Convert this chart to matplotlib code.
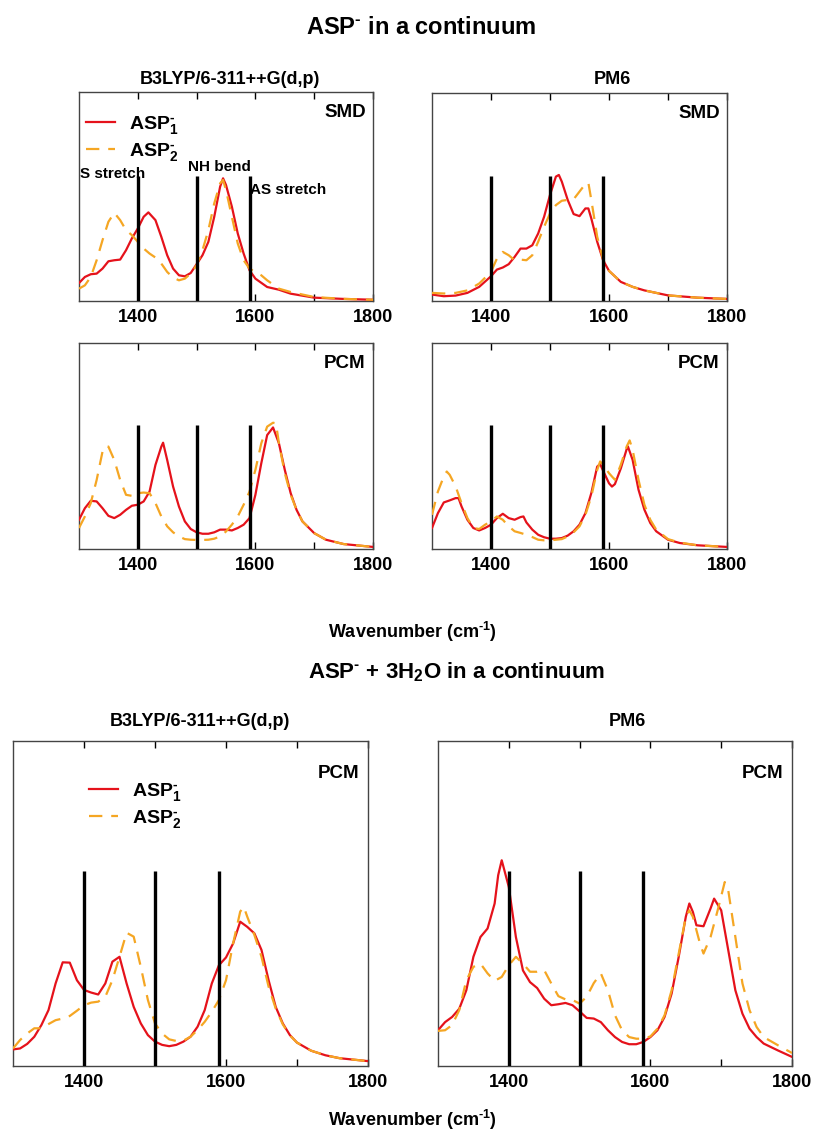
import numpy as np
import matplotlib
matplotlib.use("Agg")
import matplotlib.pyplot as plt

plt.rcParams['font.family'] = ['Liberation Sans', 'DejaVu Sans']
plt.rcParams['font.weight'] = 'bold'
plt.rcParams['mathtext.fontset'] = 'custom'
plt.rcParams['mathtext.rm'] = 'Liberation Sans:bold'
plt.rcParams['mathtext.it'] = 'Liberation Sans:bold'
plt.rcParams['mathtext.bf'] = 'Liberation Sans:bold'

RED = '#e5121b'
ORANGE = '#f5a623'
BANDS = [1400, 1500, 1590]
BAND_H = 0.6

# --- top-left: B3LYP, SMD ---
tl_x1 = [1300, 1310, 1320, 1330, 1340, 1350, 1360, 1370, 1380, 1390, 1400, 1410, 1418, 1430, 1440, 1450,
         1460, 1470, 1480, 1490, 1500, 1510, 1520, 1530, 1540, 1545, 1550, 1560, 1570, 1580, 1590, 1600,
         1620, 1640, 1660, 1700, 1750, 1800]
tl_y1 = [0.086, 0.115, 0.128, 0.131, 0.155, 0.19, 0.195, 0.198, 0.243, 0.30, 0.347, 0.403, 0.424, 0.387,
         0.307, 0.219, 0.155, 0.123, 0.118, 0.134, 0.176, 0.219, 0.283, 0.403, 0.547, 0.587, 0.555, 0.451,
         0.323, 0.227, 0.147, 0.107, 0.067, 0.054, 0.035, 0.016, 0.01, 0.006]
tl_x2 = [1300, 1310, 1320, 1330, 1340, 1350, 1360, 1370, 1380, 1390, 1400, 1410, 1420, 1430, 1440, 1450,
         1460, 1470, 1480, 1490, 1500, 1510, 1520, 1530, 1540, 1545, 1550, 1560, 1570, 1580, 1590, 1600,
         1610, 1620, 1640, 1660, 1700, 1750, 1800]
tl_y2 = [0.059, 0.075, 0.115, 0.195, 0.291, 0.379, 0.422, 0.387, 0.339, 0.315, 0.283, 0.251, 0.227, 0.208,
         0.179, 0.139, 0.112, 0.099, 0.107, 0.131, 0.171, 0.243, 0.339, 0.467, 0.563, 0.579, 0.531, 0.403,
         0.275, 0.195, 0.155, 0.139, 0.123, 0.099, 0.059, 0.043, 0.019, 0.01, 0.006]

# --- top-right: PM6, SMD ---
tr_x1 = [1300, 1320, 1340, 1360, 1380, 1400, 1410, 1420, 1430, 1440, 1450, 1460, 1470, 1480, 1490, 1500,
         1510, 1515, 1520, 1530, 1540, 1550, 1560, 1565, 1570, 1580, 1590, 1600, 1620, 1640, 1660, 1700,
         1750, 1800]
tr_y1 = [0.031, 0.023, 0.026, 0.039, 0.068, 0.119, 0.151, 0.161, 0.177, 0.212, 0.252, 0.252, 0.268, 0.325,
         0.405, 0.51, 0.598, 0.606, 0.574, 0.486, 0.418, 0.408, 0.445, 0.445, 0.397, 0.285, 0.196, 0.145,
         0.092, 0.068, 0.051, 0.027, 0.016, 0.01]
tr_x2 = [1300, 1320, 1340, 1360, 1380, 1400, 1410, 1420, 1430, 1440, 1450, 1460, 1470, 1480, 1490, 1500,
         1510, 1520, 1530, 1540, 1550, 1560, 1565, 1570, 1580, 1590, 1600, 1620, 1640, 1660, 1700, 1750,
         1800]
tr_y2 = [0.039, 0.036, 0.039, 0.051, 0.084, 0.14, 0.204, 0.236, 0.22, 0.196, 0.199, 0.196, 0.22, 0.285,
         0.357, 0.421, 0.461, 0.482, 0.486, 0.489, 0.526, 0.563, 0.569, 0.486, 0.309, 0.199, 0.145, 0.092,
         0.068, 0.051, 0.027, 0.016, 0.01]

# --- middle-left: B3LYP, PCM ---
ml_x1 = [1300, 1310, 1320, 1330, 1340, 1350, 1360, 1370, 1380, 1390, 1400, 1410, 1420, 1430, 1440, 1443,
         1450, 1460, 1470, 1480, 1490, 1500, 1510, 1520, 1530, 1540, 1550, 1560, 1570, 1580, 1590, 1600,
         1610, 1620, 1630, 1640, 1650, 1660, 1670, 1680, 1700, 1720, 1750, 1800]
ml_y1 = [0.142, 0.198, 0.234, 0.231, 0.198, 0.161, 0.15, 0.166, 0.19, 0.21, 0.215, 0.231, 0.279, 0.408,
         0.497, 0.516, 0.432, 0.303, 0.206, 0.134, 0.097, 0.081, 0.074, 0.074, 0.081, 0.094, 0.094, 0.09,
         0.102, 0.118, 0.15, 0.263, 0.416, 0.553, 0.59, 0.513, 0.384, 0.271, 0.19, 0.134, 0.077, 0.045,
         0.024, 0.01]
ml_x2 = [1300, 1310, 1320, 1330, 1340, 1345, 1350, 1360, 1370, 1380, 1390, 1400, 1410, 1420, 1430, 1440,
         1450, 1460, 1470, 1480, 1490, 1500, 1510, 1520, 1530, 1540, 1550, 1560, 1570, 1580, 1590, 1600,
         1610, 1620, 1630, 1635, 1640, 1650, 1660, 1670, 1680, 1700, 1720, 1750, 1800]
ml_y2 = [0.102, 0.158, 0.223, 0.335, 0.473, 0.5, 0.497, 0.432, 0.335, 0.263, 0.258, 0.271, 0.274, 0.271,
         0.223, 0.158, 0.11, 0.081, 0.061, 0.048, 0.045, 0.044, 0.044, 0.045, 0.05, 0.061, 0.085, 0.118,
         0.158, 0.215, 0.279, 0.384, 0.513, 0.594, 0.613, 0.61, 0.513, 0.368, 0.263, 0.19, 0.134, 0.077,
         0.045, 0.024, 0.01]

# --- middle-right: PM6, PCM ---
mr_x1 = [1300, 1310, 1320, 1330, 1340, 1345, 1350, 1360, 1370, 1380, 1390, 1400, 1410, 1420, 1430, 1440,
         1450, 1455, 1460, 1470, 1480, 1490, 1500, 1510, 1520, 1530, 1540, 1550, 1560, 1570, 1580, 1585,
         1590, 1600, 1605, 1610, 1620, 1630, 1632, 1640, 1650, 1660, 1670, 1680, 1700, 1720, 1750, 1800]
mr_y1 = [0.102, 0.174, 0.226, 0.236, 0.247, 0.247, 0.207, 0.142, 0.102, 0.09, 0.102, 0.118, 0.15, 0.171,
         0.15, 0.142, 0.155, 0.158, 0.129, 0.094, 0.069, 0.057, 0.05, 0.05, 0.053, 0.065, 0.086, 0.118,
         0.174, 0.271, 0.4, 0.412, 0.38, 0.319, 0.303, 0.315, 0.391, 0.485, 0.498, 0.433, 0.288, 0.191,
         0.126, 0.086, 0.045, 0.029, 0.018, 0.01]
mr_x2 = [1300, 1310, 1320, 1325, 1330, 1340, 1350, 1360, 1370, 1380, 1390, 1400, 1410, 1420, 1430, 1440,
         1450, 1460, 1470, 1480, 1490, 1500, 1510, 1520, 1530, 1540, 1550, 1560, 1570, 1580, 1585, 1590,
         1600, 1610, 1620, 1630, 1635, 1640, 1650, 1660, 1670, 1680, 1700, 1720, 1750, 1800]
mr_y2 = [0.166, 0.279, 0.352, 0.376, 0.36, 0.304, 0.223, 0.15, 0.102, 0.097, 0.118, 0.134, 0.158, 0.142,
         0.11, 0.086, 0.078, 0.069, 0.058, 0.045, 0.042, 0.042, 0.045, 0.048, 0.061, 0.081, 0.11, 0.166,
         0.255, 0.384, 0.425, 0.409, 0.368, 0.336, 0.409, 0.498, 0.527, 0.482, 0.336, 0.215, 0.142, 0.094,
         0.048, 0.031, 0.018, 0.01]

# --- bottom-left: B3LYP, ASP- + 3H2O, PCM ---
bl_x1 = [1300, 1310, 1320, 1330, 1340, 1350, 1360, 1370, 1380, 1390, 1400, 1410, 1420, 1430, 1440, 1450,
         1460, 1470, 1480, 1490, 1500, 1510, 1520, 1530, 1540, 1550, 1560, 1570, 1580, 1590, 1600, 1610,
         1620, 1630, 1640, 1650, 1660, 1670, 1680, 1690, 1700, 1720, 1740, 1760, 1800]
bl_y1 = [0.051, 0.054, 0.068, 0.09, 0.126, 0.172, 0.254, 0.319, 0.318, 0.264, 0.234, 0.226, 0.22, 0.254,
         0.321, 0.336, 0.254, 0.182, 0.131, 0.095, 0.075, 0.065, 0.061, 0.065, 0.075, 0.09, 0.121, 0.172,
         0.254, 0.31, 0.334, 0.377, 0.444, 0.428, 0.408, 0.357, 0.264, 0.182, 0.131, 0.095, 0.072, 0.047,
         0.033, 0.024, 0.015]
bl_x2 = [1300, 1310, 1320, 1330, 1340, 1350, 1360, 1370, 1380, 1390, 1400, 1410, 1420, 1430, 1440, 1450,
         1460, 1470, 1480, 1490, 1500, 1510, 1520, 1530, 1540, 1550, 1560, 1570, 1580, 1590, 1600, 1610,
         1620, 1625, 1630, 1640, 1650, 1660, 1670, 1680, 1690, 1700, 1720, 1740, 1760, 1800]
bl_y2 = [0.054, 0.08, 0.1, 0.116, 0.116, 0.129, 0.141, 0.146, 0.154, 0.17, 0.187, 0.195, 0.198, 0.213,
         0.264, 0.336, 0.41, 0.398, 0.305, 0.203, 0.131, 0.1, 0.082, 0.077, 0.078, 0.09, 0.111, 0.136,
         0.167, 0.203, 0.264, 0.377, 0.475, 0.49, 0.459, 0.403, 0.336, 0.244, 0.177, 0.128, 0.094, 0.072,
         0.047, 0.033, 0.024, 0.015]

# --- bottom-right: PM6, ASP- + 3H2O, PCM ---
br_x1 = [1300, 1310, 1320, 1330, 1340, 1350, 1360, 1370, 1380, 1385, 1390, 1400, 1410, 1420, 1430, 1440,
         1450, 1460, 1470, 1480, 1490, 1500, 1510, 1520, 1530, 1540, 1550, 1560, 1570, 1580, 1590, 1600,
         1610, 1620, 1630, 1640, 1650, 1655, 1660, 1665, 1675, 1685, 1690, 1700, 1710, 1720, 1730, 1740,
         1750, 1760, 1780, 1800]
br_y1 = [0.11, 0.135, 0.151, 0.176, 0.233, 0.336, 0.397, 0.423, 0.5, 0.587, 0.633, 0.551, 0.397, 0.294,
         0.258, 0.24, 0.207, 0.187, 0.19, 0.194, 0.187, 0.168, 0.148, 0.146, 0.135, 0.11, 0.089, 0.074,
         0.067, 0.067, 0.074, 0.089, 0.11, 0.151, 0.223, 0.336, 0.459, 0.5, 0.474, 0.433, 0.43, 0.485,
         0.515, 0.479, 0.356, 0.233, 0.161, 0.115, 0.089, 0.069, 0.048, 0.028]
br_x2 = [1300, 1310, 1320, 1330, 1340, 1350, 1360, 1370, 1380, 1390, 1400, 1410, 1420, 1430, 1440, 1450,
         1460, 1470, 1480, 1490, 1500, 1510, 1520, 1530, 1540, 1550, 1560, 1570, 1580, 1590, 1600, 1610,
         1620, 1630, 1640, 1650, 1655, 1660, 1670, 1675, 1685, 1695, 1705, 1710, 1720, 1730, 1740, 1750,
         1760, 1780, 1800]
br_y2 = [0.108, 0.11, 0.126, 0.172, 0.264, 0.305, 0.315, 0.285, 0.262, 0.274, 0.31, 0.336, 0.315, 0.29,
         0.29, 0.295, 0.254, 0.215, 0.205, 0.203, 0.192, 0.213, 0.255, 0.285, 0.233, 0.156, 0.11, 0.089,
         0.084, 0.084, 0.091, 0.115, 0.156, 0.233, 0.346, 0.459, 0.479, 0.459, 0.377, 0.346, 0.397, 0.479,
         0.566, 0.54, 0.397, 0.254, 0.172, 0.12, 0.089, 0.064, 0.04]

W, H = 815, 1133
fig = plt.figure(figsize=(W / 100, H / 100), dpi=100)

HY = r'\text{-}'  # short hyphen as in the original superscripts


def px_axes(x0, x1, y0, y1):
    # pixel box (top-left origin) -> figure fraction
    return fig.add_axes([x0 / W, 1 - y1 / H, (x1 - x0) / W, (y1 - y0) / H])


def panel(box, x1, y1, x2, y2, solvent):
    ax = px_axes(*box)
    ax.plot(x1, y1, color=RED, lw=1.6, label=r'ASP$_{1}^{' + HY + '}$', zorder=3)
    ax.plot(x2, y2, color=ORANGE, lw=1.6, dashes=(6, 4), label=r'ASP$_{2}^{' + HY + '}$', zorder=4)
    ax.vlines(BANDS, 0, BAND_H, color='black', lw=2.4, zorder=5)
    ax.set_xlim(1300, 1800)
    ax.set_ylim(0, 1)
    ax.set_yticks([])
    ax.set_xticks([1400, 1600, 1800])
    ax.set_xticks([1500, 1700], minor=True)
    ax.tick_params(axis='x', which='both', direction='in', top=True, length=5, width=1,
                   labelsize=13, pad=6)
    for lab in ax.get_xticklabels():
        lab.set_fontweight('bold')
    for sp in ax.spines.values():
        sp.set_color('#444444')
        sp.set_linewidth(1.0)
    ax.text(0.975, 0.9, solvent, transform=ax.transAxes, ha='right', va='center',
            fontsize=13.5, fontweight='bold')
    return ax


ax_tl = panel((79, 373, 92, 301), tl_x1, tl_y1, tl_x2, tl_y2, 'SMD')
ax_tr = panel((432, 727, 93, 301), tr_x1, tr_y1, tr_x2, tr_y2, 'SMD')
ax_ml = panel((79, 373, 343, 549), ml_x1, ml_y1, ml_x2, ml_y2, 'PCM')
ax_mr = panel((432, 727, 343, 549), mr_x1, mr_y1, mr_x2, mr_y2, 'PCM')
ax_bl = panel((13, 368, 741, 1066), bl_x1, bl_y1, bl_x2, bl_y2, 'PCM')
ax_br = panel((438, 792, 741, 1066), br_x1, br_y1, br_x2, br_y2, 'PCM')

ax_tl.legend(loc='upper left', frameon=False, fontsize=14, handlelength=1.5,
             handletextpad=0.7, labelspacing=0.25, bbox_to_anchor=(-0.035, 0.98))
ax_bl.legend(loc='upper left', frameon=False, fontsize=14, handlelength=1.5,
             handletextpad=0.7, labelspacing=0.25, bbox_to_anchor=(0.165, 0.93))

ax_tl.text(1357, 0.61, 'S stretch', ha='center', va='center', fontsize=11, fontweight='bold')
ax_tl.text(1538, 0.64, 'NH bend', ha='center', va='center', fontsize=11, fontweight='bold')
ax_tl.text(1656, 0.53, 'AS stretch', ha='center', va='center', fontsize=11, fontweight='bold')

fig.text(421 / W, 1 - 27 / H, r'ASP$^{' + HY + '}$ in a continuum', ha='center', va='center',
         fontsize=17, fontweight='bold')
fig.text(230 / W, 1 - 80 / H, 'B3LYP/6-311++G(d,p)', ha='center', va='center',
         fontsize=13, fontweight='bold')
fig.text(612 / W, 1 - 80 / H, 'PM6', ha='center', va='center', fontsize=13, fontweight='bold')
fig.text(412 / W, 1 - 632 / H, r'Wavenumber (cm$^{' + HY + '1}$)', ha='center', va='center',
         fontsize=13, fontweight='bold')
fig.text(457 / W, 1 - 672 / H, r'ASP$^{' + HY + '}$ + 3H$_{2}$O in a continuum', ha='center',
         va='center', fontsize=16, fontweight='bold')
fig.text(200 / W, 1 - 722 / H, 'B3LYP/6-311++G(d,p)', ha='center', va='center',
         fontsize=13, fontweight='bold')
fig.text(627 / W, 1 - 722 / H, 'PM6', ha='center', va='center', fontsize=13, fontweight='bold')
fig.text(412 / W, 1 - 1120 / H, r'Wavenumber (cm$^{' + HY + '1}$)', ha='center', va='center',
         fontsize=13, fontweight='bold')

fig.savefig('out.png', dpi=100)
